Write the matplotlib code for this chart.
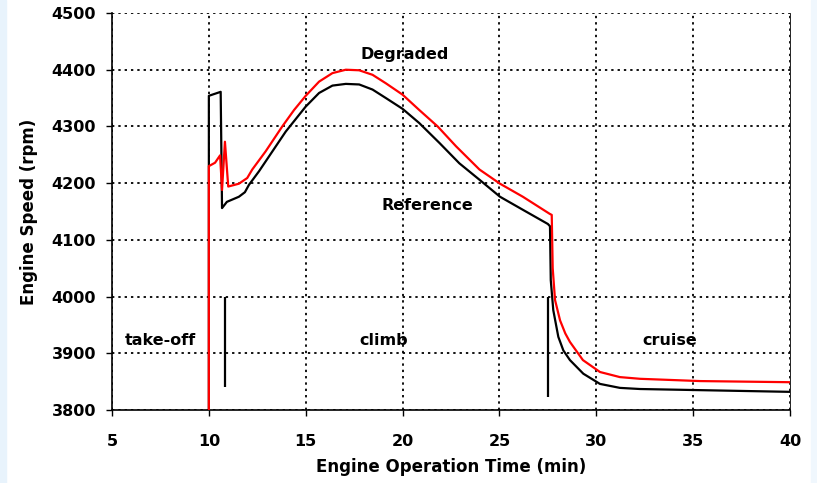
import matplotlib
matplotlib.use("Agg")
import matplotlib.pyplot as plt
from matplotlib.patches import Rectangle

# reference engine speed (black)
ref_t = [10.0, 10.0, 10.61, 10.68, 10.93, 11.55, 11.86, 12.07, 12.59, 13.28, 13.97,
         15.0, 15.69, 16.38, 17.07, 17.76, 18.45, 19.14, 20.0, 20.86, 21.9,
         22.93, 23.97, 25.03, 26.21, 27.5, 27.61, 27.65, 27.78, 28.04, 28.3,
         28.64, 29.33, 30.19, 31.22, 32.26, 35.36, 40.0]
ref_rpm = [3800, 4354, 4361, 4156, 4167, 4176, 4184, 4197, 4221, 4256, 4291,
           4335, 4359, 4372, 4375, 4374, 4365, 4350, 4331, 4306, 4271,
           4235, 4206, 4176, 4153, 4128, 4124, 4029, 3976, 3929, 3905,
           3888, 3864, 3846, 3839, 3837, 3835, 3832]

# degraded engine speed (red)
deg_t = [10.0, 10.0, 10.32, 10.58, 10.68, 10.83, 11.0, 11.55, 11.98, 12.24, 12.93,
         13.79, 14.4, 15.0, 15.69, 16.38, 17.07, 17.76, 18.45, 19.14, 20.0,
         20.86, 21.81, 22.76, 23.97, 25.03, 26.21, 27.59, 27.7, 27.75, 27.87,
         28.13, 28.4, 28.64, 29.31, 30.19, 31.22, 32.26, 35.36, 40.0]
deg_rpm = [3800, 4230, 4236, 4249, 4188, 4273, 4194, 4199, 4209, 4224, 4256,
           4300, 4329, 4354, 4379, 4394, 4400, 4399, 4391, 4376, 4356,
           4329, 4300, 4265, 4224, 4199, 4176, 4146, 4144, 4050, 3994,
           3958, 3935, 3920, 3888, 3867, 3858, 3855, 3851, 3849]

# phase separators
sep_t = [10.83, 27.5]
sep_low = [3840, 3823]
sep_high = [4000, 4000]

phase_labels = ["take-off", "climb", "cruise"]
phase_t = [7.5, 19.0, 33.8]
phase_rpm = [3923, 3923, 3923]

xticks = [5, 10, 15, 20, 25, 30, 35, 40]
yticks = [3800, 3900, 4000, 4100, 4200, 4300, 4400, 4500]

plt.rcParams['font.family'] = ['DejaVu Sans']
plt.rcParams['font.weight'] = 'bold'

fig = plt.figure(figsize=(8.17, 4.83), dpi=100, facecolor='white')
# pale blue page edges
fig.patches.append(Rectangle((0, 0), 6 / 817, 1, transform=fig.transFigure,
                             color='#e8f3fc', zorder=0))
fig.patches.append(Rectangle((811 / 817, 0), 6 / 817, 1, transform=fig.transFigure,
                             color='#f0f7fd', zorder=0))

ax = fig.add_axes([112 / 817, 1 - 410 / 483, (790 - 112) / 817, (410 - 13) / 483])

ax.plot(ref_t, ref_rpm, color='black', lw=1.6, zorder=3)
ax.plot(deg_t, deg_rpm, color='red', lw=1.6, zorder=4)
ax.vlines(sep_t, sep_low, sep_high, colors='black', lw=1.6, zorder=3)

for lab, t, r in zip(phase_labels, phase_t, phase_rpm):
    ax.text(t, r, lab, ha='center', va='center', fontsize=11.5, fontweight='bold')
ax.text(20.1, 4426, "Degraded", ha='center', va='center', fontsize=11.5, fontweight='bold')
ax.text(21.3, 4161, "Reference", ha='center', va='center', fontsize=11.5, fontweight='bold')

ax.set_xlim(5, 40)
ax.set_ylim(3800, 4500)
ax.set_xticks(xticks)
ax.set_yticks(yticks)
ax.grid(True, color='black', linestyle=(0, (1.3, 2.2)), lw=1.3)
ax.set_axisbelow(True)

ax.spines['top'].set_visible(False)
ax.spines['right'].set_linewidth(0.6)
ax.spines['left'].set_linewidth(1.2)
ax.spines['bottom'].set_linewidth(1.2)

ax.tick_params(axis='y', direction='out', length=4.5, width=1.0, pad=7, labelsize=11.5)
ax.tick_params(axis='x', direction='out', length=4.5, width=1.0, pad=13, labelsize=11.5)
for lbl in ax.get_xticklabels() + ax.get_yticklabels():
    lbl.set_fontweight('bold')

ax.set_xlabel("Engine Operation Time (min)", fontsize=12, fontweight='bold', labelpad=6)
ax.set_ylabel("Engine Speed (rpm)", fontsize=12, fontweight='bold', labelpad=10)

fig.savefig("out.png", dpi=100)
